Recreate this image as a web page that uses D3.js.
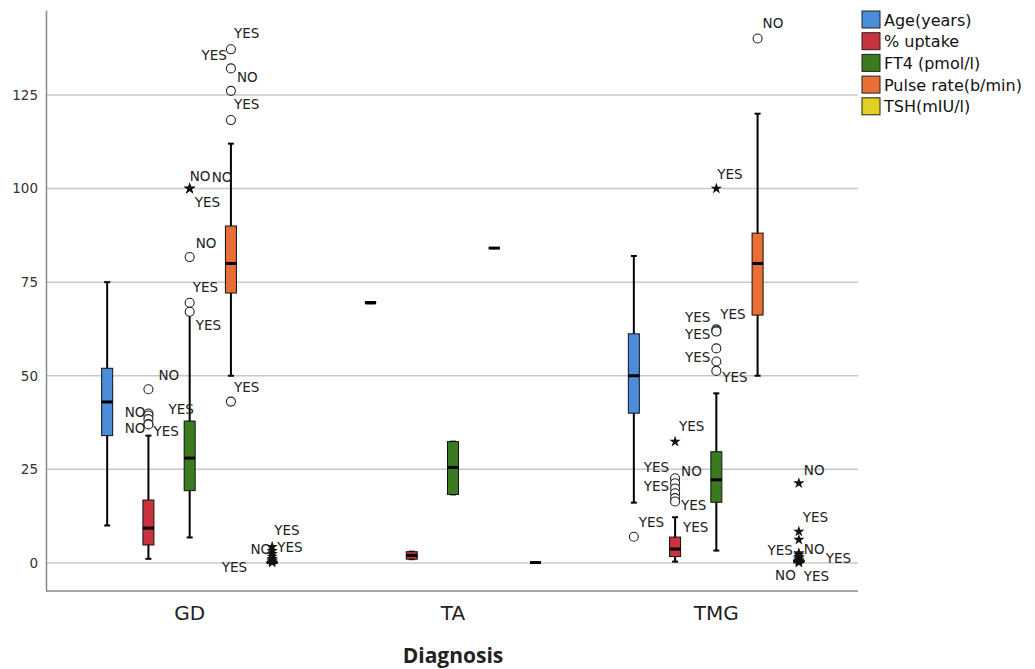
<!DOCTYPE html>
<meta charset="utf-8">
<head>
<style>
  body { margin: 0; background: #fff; }
  svg { display: block; font-family: 'DejaVu Sans', sans-serif; }
</style>
</head>
<body>
<svg width="1035" height="669"></svg>

<script src="https://d3js.org/d3.v7.min.js"></script>
<script>

var categories = ["GD", "TA", "TMG"];
var variables = ["Age(years)", "% uptake", "FT4 (pmol/l)", "Pulse rate(b/min)", "TSH(mIU/l)"];
var yTicks = [0, 25, 50, 75, 100, 125];
var xTitle = "Diagnosis";

// [low whisker, Q1, median, Q3, high whisker], one row per variable
var gdStats = [
  [10, 34, 43, 52, 75],
  [1.1, 4.8, 9.3, 16.8, 34],
  [6.8, 19.3, 28, 37.9, 66.2],
  [50, 72.1, 80, 90, 112],
  [0, 0.02, 0.1, 0.3, 0.6]
];
var taStats = [
  [69.5, 69.2, 69.5, 69.8, 69.5],
  [1.0, 1.0, 2.0, 3.0, 3.0],
  [18.3, 18.3, 25.5, 32.4, 32.4],
  [84.1, 84.0, 84.1, 84.2, 84.1],
  [0.1, 0.05, 0.1, 0.15, 0.1]
];
var tmgStats = [
  [16.1, 40, 50, 61.2, 82],
  [0.35, 1.7, 3.7, 6.9, 12.2],
  [3.3, 16.2, 22.2, 29.7, 45.3],
  [50, 66.2, 80, 88.1, 120],
  [0, 0.05, 0.3, 1.0, 2.0]
];

// outliers: [value, label, type]  o = outlier, * = extreme
var gdOutliers = [
  [],
  [[46.4, "NO", "o"], [39.9, "YES", "o"], [39.4, "NO", "o"], [38.4, "", "o"], [37.1, "NO", "o"], [37.0, "YES", "o"]],
  [[100, "NO", "*"], [100, "NO", "*"], [100, "YES", "*"], [81.7, "NO", "o"], [69.5, "YES", "o"], [67.1, "YES", "o"]],
  [[137.2, "YES", "o"], [132.1, "YES", "o"], [126.1, "NO", "o"], [118.3, "YES", "o"], [43.1, "YES", "o"]],
  [[4.3, "YES", "*"], [3.2, "YES", "*"], [2.4, "NO", "*"], [1.7, "", "*"], [1.1, "", "*"], [0.7, "YES", "*"], [0.4, "", "*"], [0.1, "", "*"]]
];
var taOutliers = [[], [], [], [], []];
var tmgOutliers = [
  [[7.0, "YES", "o"]],
  [[32.4, "YES", "*"], [22.6, "YES", "o"], [21.3, "NO", "o"], [19.9, "YES", "o"], [18.6, "", "o"], [17.3, "YES", "o"], [16.4, "YES", "o"]],
  [[100, "YES", "*"], [62.4, "YES", "o"], [62.0, "YES", "o"], [61.8, "YES", "o"], [57.3, "", "o"], [53.8, "YES", "o"], [51.3, "YES", "o"]],
  [[140.1, "NO", "o"]],
  [[21.3, "NO", "*"], [8.4, "YES", "*"], [6.2, "", "*"], [2.6, "YES", "*"], [2.2, "NO", "*"], [1.6, "", "*"], [1.2, "YES", "*"], [0.7, "", "*"], [0.3, "NO", "*"], [0.1, "YES", "*"]]
];

// label placement next to each point: [dx, dy, anchor]
var gdLabelPos = [
  [],
  [[10, -14, "start"], [20, -5, "start"], [-3, -3, "end"], [0, 0, "start"], [-3, 4, "end"], [5, 7, "start"]],
  [[0, -13, "start"], [22, -12, "start"], [5, 13, "start"], [6, -14, "start"], [3, -16, "start"], [6, 13, "start"]],
  [[3, -16, "start"], [-4, -13, "end"], [6, -14, "start"], [3, -16, "start"], [3, -15, "start"]],
  [[2, -17, "start"], [5, -4, "start"], [-1, -5, "end"], [0, 0, "start"], [0, 0, "start"], [-25, 7, "end"], [0, 0, "start"], [0, 0, "start"]]
];
var tmgLabelPos = [
  [[5, -15, "start"]],
  [[4, -16, "start"], [-6, -11, "end"], [6, -12, "start"], [-6, -2, "end"], [0, 0, "start"], [8, 29, "start"], [6, 3, "start"]],
  [[1, -15, "start"], [-6, -12, "end"], [-6, 3, "end"], [4, -18, "start"], [0, 0, "start"], [-6, -5, "end"], [6, 6, "start"]],
  [[5, -15, "start"]],
  [[5, -13, "start"], [4, -14, "start"], [0, 0, "start"], [-6, -3, "end"], [5, -6, "start"], [0, 0, "start"], [27, 0, "start"], [0, 0, "start"], [-3, 13, "end"], [5, 13, "start"]]
];

var stats = [gdStats, taStats, tmgStats];
var outliers = [gdOutliers, taOutliers, tmgOutliers];
var labelPos = [gdLabelPos, [[], [], [], [], []], tmgLabelPos];

var plot = {left: 46, right: 858, top: 10, bottom: 591};

var svg = d3.select("svg");

var y = d3.scaleLinear().domain([-7.5, 147.7]).range([plot.bottom, plot.top]);
var x = d3.scaleBand().domain(categories).range([58, 848]);
var xInner = d3.scalePoint().domain(variables).range([-82.5, 82.5]);
var color = d3.scaleOrdinal()
    .domain(variables)
    .range(["#4b8ddb", "#c9323f", "#3a7b1f", "#e86e36", "#e2cf22"]);

var boxW = 11;

// gridlines
svg.append("g")
    .selectAll("line")
    .data(yTicks)
  .join("line")
    .attr("x1", plot.left)
    .attr("x2", plot.right)
    .attr("y1", function(d) { return y(d); })
    .attr("y2", function(d) { return y(d); })
    .style("stroke", "#c8c8c8")
    .style("stroke-width", 1.5);

// y axis
var yAxis = svg.append("g")
    .attr("transform", "translate(" + plot.left + ",0)")
    .call(d3.axisLeft(y).tickValues(yTicks).tickSize(0).tickPadding(8));
yAxis.select(".domain").style("stroke", "#8a8a8a").style("stroke-width", 1.5);
yAxis.selectAll("text")
    .style("font-family", "'DejaVu Sans', sans-serif")
    .style("font-size", "13.5px")
    .style("fill", "#333");

// x axis
var xAxis = svg.append("g")
    .attr("transform", "translate(0," + plot.bottom + ")")
    .call(d3.axisBottom(x).tickSize(0).tickPadding(15));
xAxis.select(".domain").remove();
xAxis.selectAll("text")
    .style("font-family", "'DejaVu Sans', sans-serif")
    .style("font-size", "20px")
    .style("fill", "#222");
svg.append("line")
    .attr("x1", plot.left)
    .attr("x2", plot.right)
    .attr("y1", plot.bottom)
    .attr("y2", plot.bottom)
    .style("stroke", "#8a8a8a")
    .style("stroke-width", 1.5);

svg.append("text")
    .attr("x", (x("TA") + x.bandwidth() / 2))
    .attr("y", 655)
    .attr("text-anchor", "middle")
    .attr("dominant-baseline", "central")
    .style("font-family", "'Open Sans', sans-serif")
    .style("font-weight", "bold")
    .style("font-size", "21px")
    .style("fill", "#222")
    .text(xTitle);

// flatten boxes and points
var boxes = [];
var points = [];
categories.forEach(function(c, ci) {
  variables.forEach(function(v, vi) {
    var cx = x(c) + x.bandwidth() / 2 + xInner(v);
    boxes.push({cat: c, v: v, s: stats[ci][vi], cx: cx});
    outliers[ci][vi].forEach(function(o, oi) {
      points.push({cat: c, v: v, value: o[0], label: o[1], type: o[2], cx: cx, pos: labelPos[ci][vi][oi]});
    });
  });
});

var bx = svg.append("g").selectAll("g")
    .data(boxes)
  .join("g");

bx.append("line")
    .attr("x1", function(d) { return d.cx; })
    .attr("x2", function(d) { return d.cx; })
    .attr("y1", function(d) { return y(d.s[0]); })
    .attr("y2", function(d) { return y(d.s[4]); })
    .style("stroke", "#000")
    .style("stroke-width", 2);

bx.selectAll(".cap")
    .data(function(d) { return [{cx: d.cx, val: d.s[0]}, {cx: d.cx, val: d.s[4]}]; })
  .join("line")
    .attr("class", "cap")
    .attr("x1", function(d) { return d.cx - 3; })
    .attr("x2", function(d) { return d.cx + 3; })
    .attr("y1", function(d) { return y(d.val); })
    .attr("y2", function(d) { return y(d.val); })
    .style("stroke", "#000")
    .style("stroke-width", 2);

bx.append("rect")
    .attr("x", function(d) { return d.cx - boxW / 2; })
    .attr("width", boxW)
    .attr("y", function(d) { return y(d.s[3]); })
    .attr("height", function(d) { return Math.max(0.5, y(d.s[1]) - y(d.s[3])); })
    .attr("rx", function(d) { return (y(d.s[1]) - y(d.s[3])) < 4 ? 2 : 0; })
    .style("fill", function(d) { return (y(d.s[1]) - y(d.s[3])) < 4 ? "#000" : color(d.v); })
    .style("stroke", "#111")
    .style("stroke-width", 1);

bx.append("line")
    .attr("x1", function(d) { return d.cx - boxW / 2; })
    .attr("x2", function(d) { return d.cx + boxW / 2; })
    .attr("y1", function(d) { return y(d.s[2]); })
    .attr("y2", function(d) { return y(d.s[2]); })
    .style("stroke", "#000")
    .style("stroke-width", 3);

// outliers and extremes
var star = d3.symbol().type(d3.symbolStar).size(40);

svg.append("g").selectAll("circle")
    .data(points.filter(function(d) { return d.type == "o"; }))
  .join("circle")
    .attr("cx", function(d) { return d.cx; })
    .attr("cy", function(d) { return y(d.value); })
    .attr("r", 4.5)
    .style("fill", "#fff")
    .style("stroke", "#222")
    .style("stroke-width", 1.1);

svg.append("g").selectAll("path")
    .data(points.filter(function(d) { return d.type == "*"; }))
  .join("path")
    .attr("d", star)
    .attr("transform", function(d) { return "translate(" + d.cx + "," + y(d.value) + ")"; })
    .style("fill", "#111");

svg.append("g").selectAll("text")
    .data(points.filter(function(d) { return d.label != ""; }))
  .join("text")
    .attr("x", function(d) { return d.cx + d.pos[0]; })
    .attr("y", function(d) { return y(d.value) + d.pos[1]; })
    .attr("text-anchor", function(d) { return d.pos[2]; })
    .attr("dominant-baseline", "central")
    .style("font-size", "13.5px")
    .style("fill", "#222")
    .text(function(d) { return d.label; });

// legend
var legend = svg.append("g")
    .attr("transform", "translate(862,11)")
    .selectAll("g")
    .data(variables)
  .join("g")
    .attr("transform", function(d, i) { return "translate(0," + (i * 21.7) + ")"; });

legend.append("rect")
    .attr("width", 18)
    .attr("height", 17)
    .style("fill", function(d) { return color(d); })
    .style("stroke", "#222")
    .style("stroke-width", 1);

legend.append("text")
    .attr("x", 22)
    .attr("y", 9)
    .attr("dominant-baseline", "central")
    .style("font-size", "16px")
    .style("fill", "#111")
    .text(function(d) { return d; });

</script>
</body>
